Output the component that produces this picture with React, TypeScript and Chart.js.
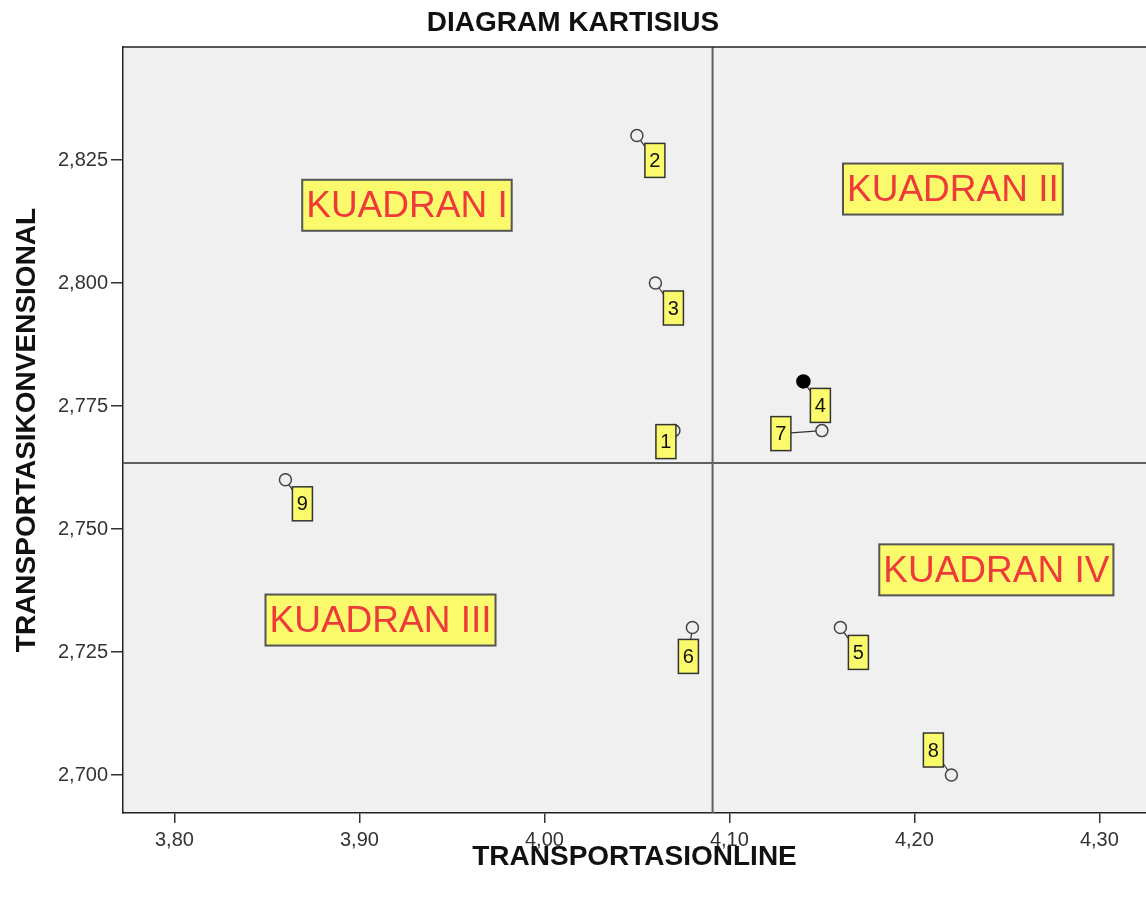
import React, { useEffect, useRef } from "react";
import { Chart, registerables } from "chart.js";

Chart.register(...registerables);

// ---- Data ----
const POINT_LABELS = ["1", "2", "3", "4", "5", "6", "7", "8", "9"];
const X_VALUES = [4.07, 4.05, 4.06, 4.14, 4.16, 4.08, 4.15, 4.22, 3.86];
const Y_VALUES = [2.77, 2.83, 2.8, 2.78, 2.73, 2.73, 2.77, 2.7, 2.76];
const HIGHLIGHTED = [false, false, false, true, false, false, false, false, false];

const X_TICKS = [3.8, 3.9, 4.0, 4.1, 4.2, 4.3];
const Y_TICKS = [2.7, 2.725, 2.75, 2.775, 2.8, 2.825];

const REF_X = 4.0909;
const REF_Y = 2.7634;

const QUADRANT_LABELS = ["KUADRAN I", "KUADRAN II", "KUADRAN III", "KUADRAN IV"];
const QUADRANT_X = [3.9257, 4.2208, 3.9114, 4.2443];
const QUADRANT_Y = [2.8158, 2.8191, 2.7315, 2.7417];

const TITLE = "DIAGRAM KARTISIUS";
const X_TITLE = "TRANSPORTASIONLINE";
const Y_TITLE = "TRANSPORTASIKONVENSIONAL";

// ---- Layout / style (not data) ----
const X_MIN = 3.7722;
const X_MAX = 4.3252;
const Y_MIN = 2.69228;
const Y_MAX = 2.84797;
// label box center offsets (px) relative to point
const LABEL_DX = [-8, 18, 18, 17, 18, -4, -41, -18, 17];
const LABEL_DY = [11, 25, 25, 24, 25, 29, 3, -25, 24];

const FONT = "'Liberation Sans', Arial, sans-serif";
const PLOT_BG = "#f0f0f0";
const YELLOW = "#fafa6c";

const decorPlugin = {
  id: "decor",
  beforeDraw(chart: any) {
    const { ctx, chartArea: a } = chart;
    ctx.save();
    ctx.fillStyle = "#ffffff";
    ctx.fillRect(0, 0, chart.width, chart.height);
    ctx.fillStyle = PLOT_BG;
    ctx.fillRect(a.left, a.top, a.right - a.left, a.bottom - a.top);
    ctx.restore();
  },
  beforeDatasetsDraw(chart: any) {
    const { ctx, chartArea: a, scales } = chart;
    const xs = scales.x;
    const ys = scales.y;
    ctx.save();
    ctx.beginPath();
    ctx.rect(a.left, a.top, a.right - a.left, a.bottom - a.top);
    ctx.clip();
    // reference lines
    ctx.strokeStyle = "#606060";
    ctx.lineWidth = 2;
    const rx = xs.getPixelForValue(REF_X);
    const ry = ys.getPixelForValue(REF_Y);
    ctx.beginPath();
    ctx.moveTo(rx, a.top);
    ctx.lineTo(rx, a.bottom);
    ctx.moveTo(a.left, ry);
    ctx.lineTo(a.right, ry);
    ctx.stroke();
    // leader lines
    ctx.strokeStyle = "#333";
    ctx.lineWidth = 1.2;
    POINT_LABELS.forEach((_, i) => {
      const px = xs.getPixelForValue(X_VALUES[i]);
      const py = ys.getPixelForValue(Y_VALUES[i]);
      ctx.beginPath();
      ctx.moveTo(px, py);
      ctx.lineTo(px + LABEL_DX[i], py + LABEL_DY[i]);
      ctx.stroke();
    });
    ctx.restore();
  },
  afterDatasetsDraw(chart: any) {
    const { ctx, scales } = chart;
    const xs = scales.x;
    const ys = scales.y;
    ctx.save();
    // point label boxes
    ctx.font = `20px ${FONT}`;
    ctx.textAlign = "center";
    ctx.textBaseline = "middle";
    POINT_LABELS.forEach((lab, i) => {
      const px = xs.getPixelForValue(X_VALUES[i]);
      const py = ys.getPixelForValue(Y_VALUES[i]);
      const cx = px + LABEL_DX[i];
      const cy = py + LABEL_DY[i];
      const w = 20;
      const h = 34;
      ctx.fillStyle = YELLOW;
      ctx.fillRect(cx - w / 2, cy - h / 2, w, h);
      ctx.strokeStyle = "#333";
      ctx.lineWidth = 1.5;
      ctx.strokeRect(cx - w / 2, cy - h / 2, w, h);
      ctx.fillStyle = "#111";
      ctx.fillText(lab, cx, cy + 1);
    });
    // quadrant boxes
    ctx.font = `37px ${FONT}`;
    QUADRANT_LABELS.forEach((lab, i) => {
      const cx = xs.getPixelForValue(QUADRANT_X[i]);
      const cy = ys.getPixelForValue(QUADRANT_Y[i]);
      const tw = ctx.measureText(lab).width;
      const w = tw + 8;
      const h = 51;
      ctx.fillStyle = YELLOW;
      ctx.fillRect(cx - w / 2, cy - h / 2, w, h);
      ctx.strokeStyle = "#555";
      ctx.lineWidth = 2;
      ctx.strokeRect(cx - w / 2, cy - h / 2, w, h);
      ctx.fillStyle = "#ee3a3a";
      ctx.fillText(lab, cx, cy + 2);
    });
    ctx.restore();
  },
  afterDraw(chart: any) {
    const { ctx, chartArea: a } = chart;
    ctx.save();
    // top border of plot frame
    ctx.strokeStyle = "#222";
    ctx.lineWidth = 1.5;
    ctx.beginPath();
    ctx.moveTo(a.left, a.top);
    ctx.lineTo(chart.width, a.top);
    ctx.stroke();
    // titles
    ctx.fillStyle = "#111";
    ctx.textAlign = "center";
    ctx.textBaseline = "middle";
    ctx.font = `bold 28px ${FONT}`;
    ctx.fillText(TITLE, chart.width / 2, 23);
    ctx.fillText(X_TITLE, (a.left + a.right) / 2, 857);
    ctx.translate(27, (a.top + a.bottom) / 2);
    ctx.rotate(-Math.PI / 2);
    ctx.fillText(Y_TITLE, 0, 0);
    ctx.restore();
  },
};

export default function App() {
  const ref = useRef<HTMLCanvasElement | null>(null);
  useEffect(() => {
    if (!ref.current) return;
    const chart = new Chart(ref.current, {
      type: "scatter",
      data: {
        datasets: [
          {
            data: X_VALUES.map((x, i) => ({ x, y: Y_VALUES[i] })),
            pointRadius: HIGHLIGHTED.map((h) => (h ? 6.5 : 6)),
            pointBorderWidth: 1.5,
            pointBorderColor: HIGHLIGHTED.map((h) => (h ? "#000" : "#444")),
            pointBackgroundColor: HIGHLIGHTED.map((h) => (h ? "#000" : PLOT_BG)),
          },
        ],
      },
      options: {
        responsive: false,
        animation: false,
        events: [],
        layout: { autoPadding: false, padding: { top: 47, left: 0, right: 0, bottom: 0 } },
        plugins: {
          legend: { display: false },
          tooltip: { enabled: false },
          title: { display: false },
        },
        scales: {
          x: {
            type: "linear",
            min: X_MIN,
            max: X_MAX,
            afterBuildTicks: (s: any) => {
              s.ticks = X_TICKS.map((v) => ({ value: v }));
            },
            afterFit: (s: any) => {
              s.height = 84;
            },
            ticks: {
              autoSkip: false,
              maxRotation: 0,
              padding: 5,
              color: "#333",
              font: { family: FONT, size: 20 },
              callback: (v: any) => Number(v).toFixed(2).replace(".", ","),
            },
            grid: {
              display: true,
              drawOnChartArea: false,
              drawTicks: true,
              tickLength: 10,
              color: "#333",
              lineWidth: 1.5,
            },
            border: { display: true, color: "#222", width: 1.5 },
          },
          y: {
            type: "linear",
            min: Y_MIN,
            max: Y_MAX,
            afterBuildTicks: (s: any) => {
              s.ticks = Y_TICKS.map((v) => ({ value: v }));
            },
            afterFit: (s: any) => {
              s.width = 123;
            },
            ticks: {
              autoSkip: false,
              padding: 3,
              color: "#333",
              font: { family: FONT, size: 20 },
              callback: (v: any) => Number(v).toFixed(3).replace(".", ","),
            },
            grid: {
              display: true,
              drawOnChartArea: false,
              drawTicks: true,
              tickLength: 12,
              color: "#333",
              lineWidth: 1.5,
            },
            border: { display: true, color: "#222", width: 1.5 },
          },
        },
      },
      plugins: [decorPlugin],
    });
    return () => chart.destroy();
  }, []);
  return (
    <div style={{ position: "absolute", left: 0, top: 0, width: 1146, height: 897, overflow: "hidden" }}>
      <canvas ref={ref} width={1146} height={897} style={{ display: "block" }} />
    </div>
  );
}
